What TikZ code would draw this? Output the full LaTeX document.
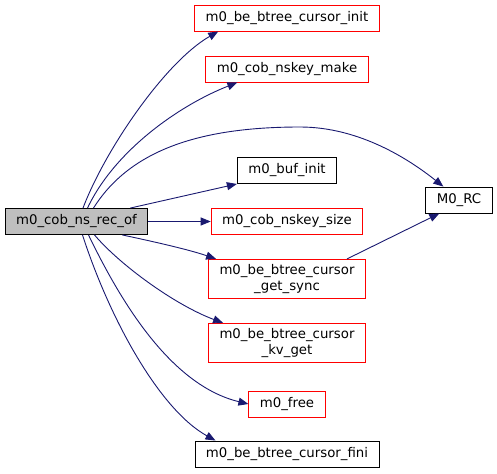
\documentclass[tikz,border=0pt]{standalone}
\usepackage{fontspec}
\setmainfont{DejaVu Sans}
\usetikzlibrary{arrows.meta}
\definecolor{edgeblue}{RGB}{25,25,112}
\definecolor{nodegray}{RGB}{191,191,191}
\definecolor{linkred}{RGB}{255,0,0}

\begin{document}
\begin{tikzpicture}[
  x=1pt,y=-1pt,
  fn/.style={
    draw=black,
    fill=white,
    line width=0.9pt,
    minimum height=26pt,
    inner xsep=11pt,
    inner ysep=5pt,
    align=center,
    font=\fontsize{13.3pt}{16pt}\selectfont
  },
  undoc/.style={fn,draw=linkred},
  call/.style={draw=edgeblue,line width=0.9pt,-{Triangle[length=10pt,width=8pt]}}
]
\useasboundingbox (0,0) rectangle (497,473);
\node[fn,fill=nodegray] (main) at (76.5,221.5) {m0\_cob\_ns\_rec\_of};
\node[undoc] (cinit) at (287,18) {m0\_be\_btree\_cursor\_init};
\node[undoc] (nmake) at (287,69) {m0\_cob\_nskey\_make};
\node[fn] (binit) at (287,170.5) {m0\_buf\_init};
\node[undoc] (nsize) at (287,221.5) {m0\_cob\_nskey\_size};
\node[undoc] (gsync) at (287,279) {m0\_be\_btree\_cursor\\\_get\_sync};
\node[undoc] (kvget) at (287,343) {m0\_be\_btree\_cursor\\\_kv\_get};
\node[undoc] (free) at (287,404) {m0\_free};
\node[fn] (fini) at (287,454) {m0\_be\_btree\_cursor\_fini};
\node[fn] (mrc) at (459,200) {M0\_RC};

% calls out of m0_cob_ns_rec_of
\draw[call] ([xshift=6.5pt]main.north) .. controls (105,150) and (165,62) .. ([xshift=24pt]cinit.south west);
\draw[call] ([xshift=11pt]main.north) .. controls (115,150) and (180,105) .. ([xshift=32pt]nmake.south west);
\draw[call] ([xshift=17pt]main.north) .. controls (130,150) and (200,127) .. (300,127)
  .. controls (360,127) and (410,160) .. ([xshift=18pt]mrc.north west);
\draw[call] ([xshift=-18pt]main.north east) -- (binit.south west);
\draw[call] (main.east) -- (nsize.west);
\draw[call] ([xshift=-26pt]main.south east) .. controls (160,243) and (190,250) .. ([xshift=8pt]gsync.north west);
\draw[call] ([xshift=18pt]main.south) .. controls (120,265) and (175,305) .. ([xshift=15pt]kvget.north west);
\draw[call] ([xshift=12pt]main.south) .. controls (120,300) and (170,385) .. (free.west);
\draw[call] ([xshift=6pt]main.south) .. controls (110,320) and (160,410) .. ([xshift=21pt]fini.north west);
\draw[call] ([xshift=60pt]gsync.north) -- ([xshift=14pt]mrc.south west);
\end{tikzpicture}
\end{document}
